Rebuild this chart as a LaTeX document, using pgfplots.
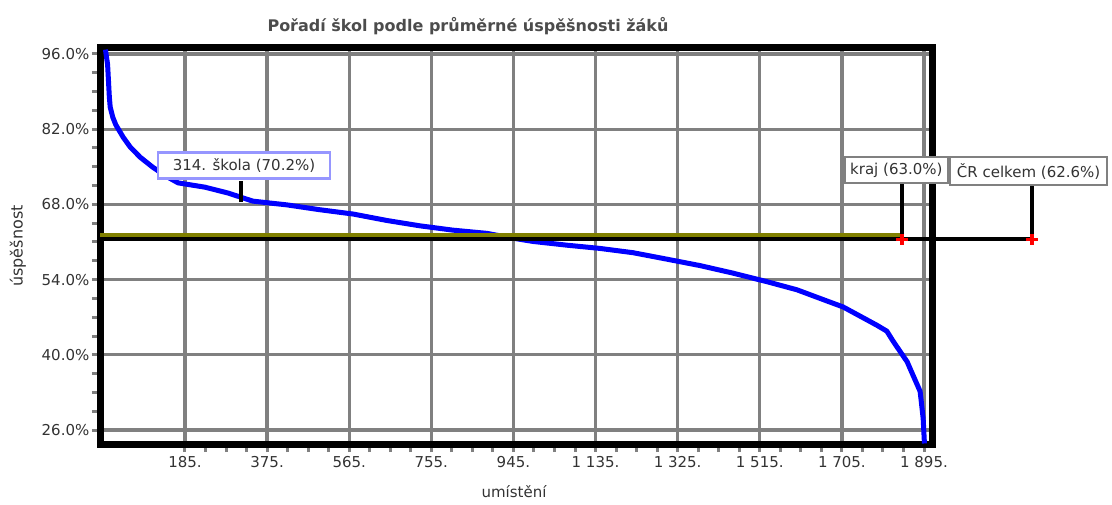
\documentclass[border=0pt]{standalone}
\usepackage{pgfplots}
\pgfplotsset{compat=1.18}
\usepackage{fontspec}
\setmainfont{DejaVu Sans}
\definecolor{olivel}{RGB}{128,128,0}
\definecolor{gridg}{RGB}{128,128,128}
\definecolor{lblue}{RGB}{150,150,255}
\newcommand{\fs}{\fontsize{7.5}{9}\selectfont}
\begin{document}
\begin{tikzpicture}
\useasboundingbox (-50pt,-30pt) rectangle (506pt,222pt);
\begin{axis}[
  scale only axis,
  width=416pt, height=198pt,
  xmin=-11.6, xmax=1913.5,
  ymin=23.4, ymax=97.1,
  clip=false,
  axis line style={line width=3.5pt, black},
  xtick={185,375,565,755,945,1135,1325,1515,1705,1895},
  xticklabels={185.,375.,565.,755.,945.,1 135.,1 325.,1 515.,1 705.,1 895.},
  ytick={26,40,54,68,82,96},
  yticklabels={26.0\%,40.0\%,54.0\%,68.0\%,82.0\%,96.0\%},
  minor x tick num=3, minor y tick num=3,
  xtick pos=bottom, ytick pos=left,
  tick align=outside,
  major tick length=4pt, minor tick length=4pt,
  every tick/.style={gridg, line width=1.5pt},
  grid=major,
  major grid style={gridg, line width=1.6pt},
  tick label style={font=\fs, text=black!80},
  yticklabel style={xshift=2.2pt},
  xticklabel style={yshift=1.5pt},
  /pgf/number format/assume math mode=true,
]
\addplot[blue, line width=2.5pt, line join=round] coordinates {
(1,96.8) (6,94.0) (8,91.0) (10,88.0) (12,86.1) (18,84.2) (25,82.8) (42,80.5) (58,78.7)
(81,76.8) (109,75.0) (140,73.3) (169,72.0) (231,71.2) (285,70.1) (342,68.6)
(421,67.9) (497,67.0) (574,66.2) (652,65.0) (729,64.0) (805,63.2) (884,62.6)
(937,61.8) (990,61.1) (1069,60.4) (1145,59.8) (1222,59.0) (1300,57.8)
(1377,56.6) (1453,55.2) (1532,53.6) (1601,52.1) (1671,50.0) (1708,48.9)
(1747,47.2) (1786,45.5) (1809,44.4) (1823,42.6) (1839,40.7) (1856,38.7)
(1869,36.3) (1886,33.2) (1893,28.2) (1896,23.5)
};
% CR celkem line
\addplot[black, line width=2pt] coordinates {(-11.6,61.6) (2145,61.6)};
% kraj line
\addplot[olivel, line width=1.7pt] coordinates {(-11.6,62.3) (1844,62.3)};
% vertical connectors
\addplot[black, line width=2pt] coordinates {(1844,61.6) (1844,72.0)};
\addplot[black, line width=2pt] coordinates {(2145,61.6) (2145,71.6)};
\addplot[black, line width=2pt] coordinates {(314,68.4) (314,72.4)};
% red markers
\addplot[only marks, red, mark=+, mark size=2.8pt, line width=1.6pt] coordinates {(1844,61.4) (2145,61.4)};
% labels
\node[draw=lblue, line width=1.4pt, fill=white, minimum width=86pt, minimum height=13pt, inner sep=1pt, font=\fs, text=black!80]
  at (axis cs:321.6,75.3) {314. škola (70.2\%)};
\node[draw=gridg, line width=1.2pt, fill=white, minimum width=51.5pt, minimum height=13pt, inner sep=1pt, font=\fs, text=black!80]
  at (axis cs:1831,74.4) {kraj (63.0\%)};
\node[draw=gridg, line width=1.2pt, fill=white, minimum width=78.5pt, minimum height=14pt, inner sep=1pt, font=\fs, text=black!80]
  at (axis cs:2137,74.2) {ČR celkem (62.6\%)};
\end{axis}
\node[font=\fontsize{8}{10}\selectfont\bfseries, text=black!70] at (184pt,209pt) {Pořadí škol podle průměrné úspěšnosti žáků};
\node[font=\fontsize{8}{10}\selectfont, text=black!80, rotate=90] at (-41pt,99pt) {úspěšnost};
\node[font=\fs, text=black!80] at (207pt,-24pt) {umístění};
\end{tikzpicture}
\end{document}
